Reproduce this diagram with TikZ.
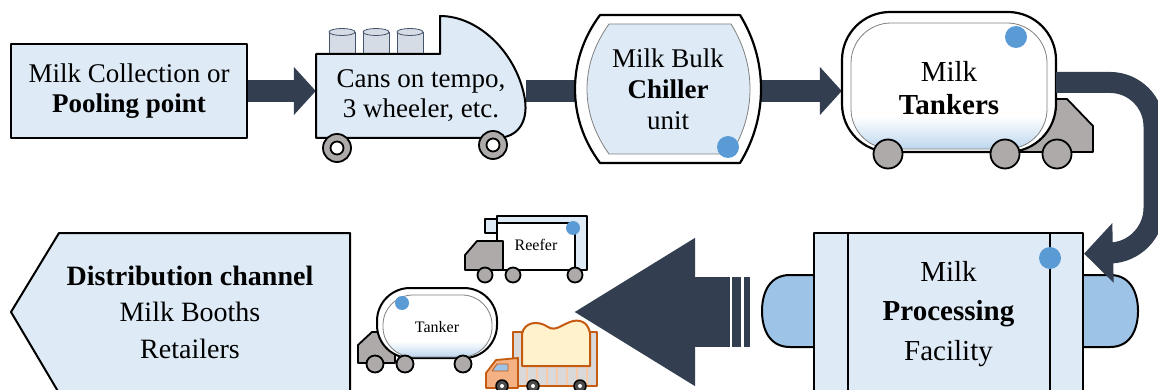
\documentclass[tikz,border=0pt]{standalone}
\usepackage{fontspec}
\setmainfont{Liberation Serif}
\usepackage{tikz}
\usetikzlibrary{arrows.meta, backgrounds}
\definecolor{myslate}{RGB}{51,63,80}
\definecolor{myice}{RGB}{222,235,247}
\definecolor{mypipe}{RGB}{157,195,230}
\definecolor{mydot}{RGB}{91,155,213}
\definecolor{mygrey}{RGB}{174,170,170}
\definecolor{mycan}{RGB}{214,220,229}
\definecolor{mycanline}{RGB}{68,84,106}
\definecolor{myfade}{RGB}{189,215,238}
\definecolor{myrust}{RGB}{197,90,17}
\definecolor{mypeach}{RGB}{244,177,131}
\definecolor{mycream}{RGB}{255,242,204}
\definecolor{mystripe}{RGB}{248,203,173}
\definecolor{mycargo}{RGB}{217,217,217}
\pgfdeclareverticalshading{tankfade}{100bp}{color(0bp)=(myfade); color(25bp)=(myfade); color(38bp)=(white); color(100bp)=(white)}
\tikzset{
  stage/.style={rectangle, draw=black, fill=myice, line width=2pt,
    align=center, inner sep=0pt},
  stagetext/.style={rectangle, align=center, inner sep=0pt},
  flowarrow/.style={-{Triangle[length=22pt,width=47pt]}, line width=22pt, color=myslate},
  flowline/.style={line width=22pt, color=myslate},
  bigarrow/.style={-{Triangle[length=122pt,width=139pt]}, line width=70pt, color=myslate},
  wheel/.style={draw=black, fill=mygrey, line width=1.8pt},
  bluedot/.style={fill=mydot},
  can/.style={draw=mycanline, fill=mycan, line width=0.8pt},
  pipe/.style={draw=black, fill=mypipe, line width=2pt},
  rust/.style={draw=myrust, line width=1.8pt}
}

\begin{document}
\begin{tikzpicture}[x=1pt, y=-1pt, line join=round]
  \useasboundingbox (0,0) rectangle (1158,390);

  % collection point
  \node[stage, minimum width=236pt, minimum height=94pt,
    font=\fontsize{27}{30}\selectfont] (pool) at (129,91)
    {Milk Collection or\\\textbf{Pooling point}};

  % tempo carrying cans
  \foreach \cx in {342,376,410} {
    \path[can] (\cx-13,32) rectangle (\cx+13,54);
    \path[can] (\cx,32) ellipse [x radius=13pt, y radius=3.5pt];
  }
  \draw[line width=2pt, fill=myice] (316,138) -- (316,54) -- (440,54) -- (440,16)
    .. controls (480,16) and (518,55) .. (525,100)
    .. controls (528,122) and (518,137) .. (498,138) -- cycle;
  \foreach \wx/\wy in {337/148,493/145} {
    \draw[wheel] (\wx,\wy) circle[radius=14pt];
    \draw[wheel, fill=white] (\wx,\wy) circle[radius=6.5pt];
  }
  \node[stagetext, minimum width=210pt, minimum height=84pt,
    font=\fontsize{27}{30}\selectfont] (cans) at (421,96)
    {Cans on tempo,\\3 wheeler, etc.};

  % bulk chiller
  \draw[line width=2.2pt, fill=white] (600,15) -- (740,15)
    .. controls (754,38) and (761,63) .. (761,89)
    .. controls (761,115) and (754,140) .. (740,163) -- (600,163)
    .. controls (583,140) and (575,115) .. (575,89)
    .. controls (575,63) and (583,38) .. (600,15) -- cycle;
  \draw[gray, line width=0.8pt, fill=myice] (609,24) -- (731,24)
    .. controls (744,45) and (750,67) .. (750,89)
    .. controls (750,111) and (744,133) .. (731,154) -- (609,154)
    .. controls (594,133) and (587,111) .. (587,89)
    .. controls (587,67) and (594,45) .. (609,24) -- cycle;
  \fill[bluedot] (728,147) circle[radius=11pt];
  \node[stagetext, minimum width=186pt, minimum height=148pt,
    font=\fontsize{27}{31}\selectfont] (chiller) at (668,89)
    {Milk Bulk\\\textbf{Chiller}\\unit};

  % road tanker
  \draw[wheel] (1020,99) -- (1067,99) -- (1093,126) -- (1093,152) -- (1020,152) -- cycle;
  \draw[line width=2.2pt, fill=white, rounded corners=48pt] (842,12) rectangle (1056,152);
  \path[draw=gray, line width=0.8pt, shade, shading=tankfade, rounded corners=40pt]
    (851,23) rectangle (1047,149);
  \foreach \wx in {888,1005,1057}
    \draw[wheel] (\wx,154) circle[radius=14.5pt];
  \fill[bluedot] (1016,37) circle[radius=11pt];
  \node[stagetext, minimum width=214pt, minimum height=128pt,
    font=\fontsize{29}{33}\selectfont] (tanker) at (949,88)
    {Milk\\\textbf{Tankers}};

  \begin{pgfonlayer}{background}
    \draw[flowarrow] (pool.east) -- (pool.east -| cans.west);
    \draw[flowline] (pool.east -| cans.east) -- (pool.east -| chiller.west);
    \draw[flowarrow] (pool.east -| chiller.east) -- (pool.east -| tanker.west);
  \end{pgfonlayer}

  % distribution
  \draw[line width=2pt, fill=myice] (11,312) -- (59,233) -- (350,233)
    -- (350,393) -- (59,393) -- cycle;
  \node[stagetext, font=\fontsize{28}{36.5}\selectfont] (distribution) at (190,312)
    {\textbf{Distribution channel}\\Milk Booths\\Retailers};

  % processing plant
  \path[pipe] (840,275) -- (790,275) .. controls (768,275) and (762,295) .. (762,311)
    .. controls (762,327) and (768,347) .. (790,347) -- (840,347) -- cycle;
  \path[pipe] (1060,275) -- (1110,275) .. controls (1132,275) and (1138,295) .. (1138,311)
    .. controls (1138,327) and (1132,347) .. (1110,347) -- (1060,347) -- cycle;
  \node[stage, minimum width=269pt, minimum height=162pt,
    font=\fontsize{29}{39.5}\selectfont] (processing) at (948.5,314)
    {Milk\\\textbf{Processing}\\Facility};
  \draw[line width=2pt] (848,233) -- (848,396);
  \draw[line width=2pt] (1050,233) -- (1050,396);
  \fill[bluedot] (1050,258) circle[radius=11pt];

  \draw[flowarrow, -{Triangle[length=29pt,width=58pt]}, line width=21pt,
    rounded corners=44pt]
    (tanker.3) -- (1154,82.5) -- (1154,252) -- (processing.24.75);

  % reefer
  \draw[line width=1.2pt, fill=myice] (485,219) rectangle (497,233);
  \draw[line width=1.2pt, fill=myice] (497,216) rectangle (587,270);
  \draw[line width=1.8pt, fill=white] (497,223) rectangle (575,270);
  \draw[wheel] (477,241) -- (503,241) -- (503,270) -- (465,270) -- (465,255) -- cycle;
  \foreach \wx in {485,513,575}
    \draw[wheel] (\wx,275) circle[radius=7.5pt];
  \fill[bluedot] (573,228) circle[radius=7pt];
  \node[font=\fontsize{16}{19}\selectfont] (reefer) at (536,245) {Reefer};

  % small tanker
  \draw[wheel] (372,332) -- (395,332) -- (395,363) -- (358,363) -- (358,345) -- cycle;
  \draw[line width=2pt, fill=white, rounded corners=33pt] (377,288) rectangle (497,358);
  \path[draw=gray, line width=0.8pt, shade, shading=tankfade, rounded corners=30pt]
    (383,295) rectangle (492,357);
  \foreach \wx in {375,405,463}
    \draw[wheel] (\wx,364) circle[radius=8.5pt];
  \fill[bluedot] (402,303) circle[radius=7pt];
  \node[font=\fontsize{16}{19}\selectfont] (smalltanker) at (437,327) {Tanker};

  % open truck
  \path[rust, fill=mycargo] (513,332) rectangle (597,386);
  \foreach \sx in {527,537,...,587}
    \draw[mystripe, line width=2.5pt] (\sx,367) -- (\sx,385);
  \path[rust, line width=2pt, fill=mycream] (522,366) -- (522,334)
    .. controls (524,322) and (538,320) .. (548,327)
    .. controls (556,332) and (562,324) .. (573,321)
    .. controls (583,319) and (589,325) .. (590,334) -- (590,366) -- cycle;
  \path[rust, fill=mypeach] (486,388) -- (486,373) -- (496,360) -- (518,358)
    -- (518,388) -- cycle;
  \path[draw=myrust, line width=0.8pt, fill=mypipe] (492,371) -- (497,364)
    -- (508,364) -- (508,371) -- cycle;
  \foreach \wx in {502,533,580} {
    \draw[line width=1.5pt, fill=black!70] (\wx,386) circle[radius=6pt];
    \fill[white] (\wx,386) circle[radius=2pt];
  }

  % dispatch arrow
  \coordinate (outlet) at (730,312);
  \coordinate (dispatch) at (573,312);
  \draw[bigarrow] (outlet) -- (dispatch);
  \fill[myslate] (732,277) rectangle (741,347);
  \fill[myslate] (744,277) rectangle (750,347);
\end{tikzpicture}
\end{document}
